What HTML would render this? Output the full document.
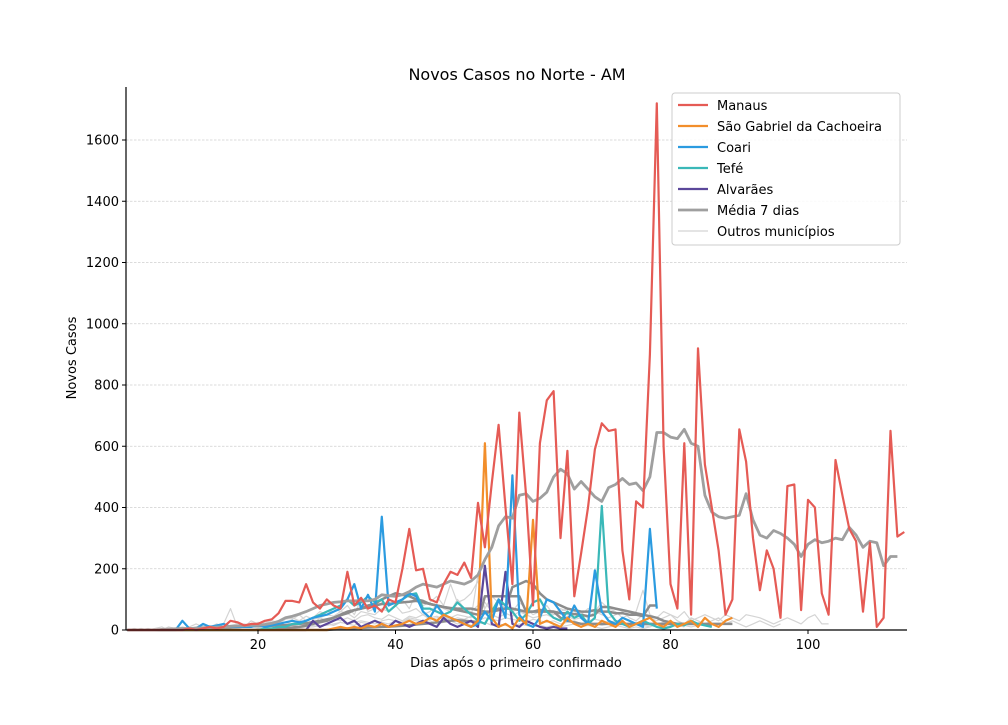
<!DOCTYPE html>
<html><head><meta charset="utf-8">
<style>
body{margin:0;background:#fff;font-family:"Liberation Sans","DejaVu Sans",sans-serif;}
svg text{font-family:"DejaVu Sans","Liberation Sans",sans-serif;}
</style></head>
<body>
<svg id="chart" width="1008" height="720" xmlns="http://www.w3.org/2000/svg">
<rect width="1008" height="720" fill="#fff"/>
<g id="grid"></g>
<g id="series"></g>
<g id="axes"></g>
<text x="517" y="80" text-anchor="middle" font-size="16">Novos Casos no Norte - AM</text>
<text x="516" y="667" text-anchor="middle" font-size="13">Dias após o primeiro confirmado</text>
<text transform="translate(76,358) rotate(-90)" text-anchor="middle" font-size="13">Novos Casos</text>
<g id="legend"></g>
</svg>
<script>
const xTicks=[20,40,60,80,100];
const yTicks=[0,200,400,600,800,1000,1200,1400,1600];
const manaus=[0,0,0,0,0,0,0,0,0,5,0,5,10,5,10,30,25,15,20,20,30,35,55,95,95,90,150,90,70,100,80,70,190,80,105,70,80,60,100,90,200,330,195,200,100,90,150,190,180,220,170,415,270,480,670,400,150,710,440,80,610,750,780,300,585,110,250,400,590,675,650,655,260,100,420,400,900,1720,600,150,70,610,50,920,540,400,260,50,100,655,550,300,130,260,200,40,470,475,65,425,400,120,50,555,440,330,290,60,285,10,40,650,305,320];
const media=[0,0,0,0,0,2,3,4,5,5,6,7,8,9,10,12,13,14,15,15,18,22,28,40,45,52,60,70,80,85,90,92,95,95,96,95,100,115,112,110,115,125,140,150,145,140,150,160,155,150,160,180,230,270,340,370,365,440,445,420,430,450,500,525,510,460,485,460,435,420,465,475,495,475,480,455,500,645,645,630,625,655,610,600,440,385,370,365,370,375,445,360,310,300,325,315,300,280,240,280,295,285,290,300,295,335,310,270,290,285,210,240,240];
const saoGabriel=[0,0,0,0,0,0,0,0,0,0,0,0,0,0,0,0,0,0,0,0,0,0,0,0,0,0,0,0,0,0,5,10,5,10,5,15,10,20,10,15,20,30,20,25,40,30,50,40,30,20,10,30,610,40,10,20,5,40,20,360,20,30,20,10,40,20,10,20,10,30,20,10,30,10,20,30,40,20,10,30,10,20,30,10,40,20,10,30,40];
const coari=[0,0,0,0,0,0,0,0,30,5,5,20,10,15,20,10,10,10,10,15,10,15,20,25,30,25,30,40,45,50,60,70,100,150,70,115,60,370,80,90,100,120,110,60,40,80,50,40,30,20,10,20,60,30,100,40,505,50,20,10,40,100,90,60,30,80,40,20,195,60,30,20,40,30,20,10,330,70];
const tefe=[0,0,0,0,0,0,0,0,0,0,0,0,0,0,0,0,0,0,0,0,5,5,10,10,20,20,30,40,50,60,70,80,100,80,90,110,90,100,60,80,100,115,120,70,70,60,50,60,90,70,50,30,20,60,100,80,60,30,50,90,100,60,40,30,60,40,50,20,40,405,60,30,20,10,20,30,20,10,5,10,20,15,30,20,15,10];
const alvaraes=[0,0,0,0,0,0,0,0,0,0,0,0,0,0,0,0,0,0,0,0,0,0,0,0,0,0,0,30,10,20,30,40,20,30,10,20,30,20,10,30,20,10,20,30,20,10,40,20,10,20,30,10,210,20,10,190,20,10,30,20,10,5,10,5,5];
const mediaCoari=[0,0,0,0,0,0,0,0,4,4,4,6,6,7,8,9,10,11,12,12,13,14,15,16,18,20,22,26,30,35,40,48,55,65,70,80,85,100,110,120,115,110,100,95,85,80,75,70,65,60,55,50,55,60,70,70,140,150,160,150,120,100,90,80,70,65,60,60,65,60,60,55,55,50,50,45,80,80];
const mediaTefe=[0,0,0,0,0,0,0,0,0,0,0,0,0,0,0,0,0,0,0,0,2,3,5,6,8,10,14,20,25,30,40,50,60,65,70,75,80,85,85,88,90,92,95,90,85,80,75,72,70,70,70,65,60,60,65,70,70,65,60,60,65,62,60,55,55,52,50,45,50,75,75,70,65,60,55,50,45,40,30,25,20,20,20,20,18,16];
const mediaSG=[0,0,0,0,0,0,0,0,0,0,0,0,0,0,0,0,0,0,0,0,0,0,0,0,0,0,0,0,0,0,2,3,5,6,7,8,9,10,11,12,14,16,18,20,22,25,28,30,32,30,28,26,110,110,110,110,110,110,60,60,60,60,60,40,30,25,20,20,20,20,20,20,20,20,20,20,20,20,20,20,20,20,20,20,20,20,20,20,20];
const outros1=[0,5,0,5,0,0,10,5,0,10,20,10,15,10,20,70,10,20,15,25,20,30,25,40,35,50,30,40,60,50,70,60,80,50,100,60,70,90,60,80,100,70,120,80,90,110,80,150,90,100,120,160,70,110,90,80,60,90,70,50,60,80,50,70,60,40,50,70,60,90,70,60,40,50,60,130,50,40,60,50,40,60,30,40,50,40,30,50,40,30,50,45,40,30,20,30,40,30,20,40,50,20,20];
const outros2=[0,0,5,0,5,10,0,5,10,5,10,15,10,20,10,15,20,10,30,20,25,30,20,35,40,30,45,35,40,50,45,60,55,40,60,55,50,70,60,80,55,60,70,50,60,80,70,60,100,70,60,80,90,60,70,80,60,70,50,60,70,60,50,60,70,60,50,40,60,50,40,50,60,40,30,50,40,30,40,50,30,20,40,30,20,30,40,20,30,20,10,20,30,20,10,20];
const outros3=[0,0,0,0,0,0,5,0,0,5,0,5,5,10,5,10,5,10,15,10,20,15,20,25,20,30,25,20,40,30,35,30,40,30,45,50,40,35,50,40,30,45,40,50,35,40,45,30,40,35,45,30,40,35,30,40,35,30,25,35,30,25,30,20,25,30,20,25,20,15,20,25,20,15,20,15,10,20,15,10,15,10];
const outros4=[0,0,0,0,0,0,0,0,0,0,0,0,0,0,0,0,0,0,0,5,5,10,5,10,15,10,20,15,10,20,15,25,20,15,25,20,30,25,20,30,25,35,30,25,30,20,25,30,20,25,15,20,25,15,20,15,10,20,15,10,15,10,15,10,15,20,10,15,10,5,10,15,10,5,10,5,10];
const outros5=[0,0,0,0,0,0,0,0,0,0,0,0,0,0,0,0,0,0,0,0,0,0,0,0,5,5,10,10,15,15,20,25,20,25,30,25,20,30,35,30,25,40,35,30,40,45,35,40,50,45,40,180,60,50,40,55,45,60,50,40,45,50,40,30,45,35,40,30,35,30,25,30,25,20,25,20,15,20,25,15,20,15,10,15];

const X0=126,X1=907,Y0=630,Y1=87;
const xs=d=>120.5+d*6.875;
const ys=v=>630-v*0.30625;
const NS='http://www.w3.org/2000/svg';
function mk(tag,attrs,parent){const e=document.createElementNS(NS,tag);for(const k in attrs)e.setAttribute(k,attrs[k]);parent.appendChild(e);return e;}
const grid=document.getElementById('grid'),axes=document.getElementById('axes'),ser=document.getElementById('series'),leg=document.getElementById('legend');
yTicks.forEach(t=>{
  if(t>0){const g=mk('line',{x1:X0,x2:X1,y1:ys(t),y2:ys(t),stroke:'#cfcfcf','stroke-width':0.8,'stroke-dasharray':'2.5,1.5'},grid);
  
  }
  const tk=mk('line',{x1:X0-4,x2:X0,y1:ys(t),y2:ys(t),stroke:'#000','stroke-width':1},axes);
  
  
  const tx=mk('text',{x:X0-7,y:ys(t)+4.5,'text-anchor':'end','font-size':13},axes);tx.textContent=t;
  
  
});
xTicks.forEach(t=>{
  const tk=mk('line',{x1:xs(t),x2:xs(t),y1:Y0,y2:Y0+4,stroke:'#000','stroke-width':1},axes);
  
  
  const tx=mk('text',{x:xs(t),y:Y0+19,'text-anchor':'middle','font-size':13},axes);tx.textContent=t;
  
  
});
const la=mk('line',{x1:X0,x2:X0,y1:Y1,y2:Y0,stroke:'#000','stroke-width':1.2},axes);


const lb=mk('line',{x1:X0,x2:X1,y1:Y0,y2:Y0,stroke:'#000','stroke-width':1.2},axes);


function line(arr,color,w,name){
  const pts=arr.map((v,i)=>xs(i+1).toFixed(1)+','+ys(v).toFixed(1)).join(' ');
  const p=mk('polyline',{points:pts,fill:'none',stroke:color,'stroke-width':w,'stroke-linejoin':'round'},ser);
  
  
}
[outros1,outros2,outros3,outros4,outros5].forEach(a=>line(a,'#d4d4d4',1.2,'outros-line'));
[mediaCoari,mediaTefe,mediaSG].forEach(a=>line(a,'#8c8c8c',2.5,'media-line-other'));
line(alvaraes,'#5b479a',2.2,'alvaraes-line');
line(tefe,'#3ab8b8',2.2,'tefe-line');
line(coari,'#2b9be0',2.2,'coari-line');
line(saoGabriel,'#f28e2b',2.2,'sao-gabriel-line');
line(media,'#9f9f9f',2.8,'media-7-dias-line');
line(manaus,'#e55b55',2.2,'manaus-line');
// legend
const lr=mk('rect',{x:672,y:93,width:228,height:152,rx:3,fill:'#fff','fill-opacity':0.85,stroke:'#ccc','stroke-width':1},leg);


const entries=[['Manaus','#e55b55',2.2],['São Gabriel da Cachoeira','#f28e2b',2.2],['Coari','#2b9be0',2.2],['Tefé','#3ab8b8',2.2],['Alvarães','#5b479a',2.2],['Média 7 dias','#9f9f9f',2.8],['Outros municípios','#d4d4d4',1.2]];
entries.forEach((e,i)=>{
  const y=105+i*21;
  const g=mk('g',{},leg);
  
  
  mk('line',{x1:678,x2:708,y1:y,y2:y,stroke:e[1],'stroke-width':e[2]},g);
  const t=mk('text',{x:717,y:y+5,'font-size':13},g);t.textContent=e[0];
});
</script>
</body></html>
